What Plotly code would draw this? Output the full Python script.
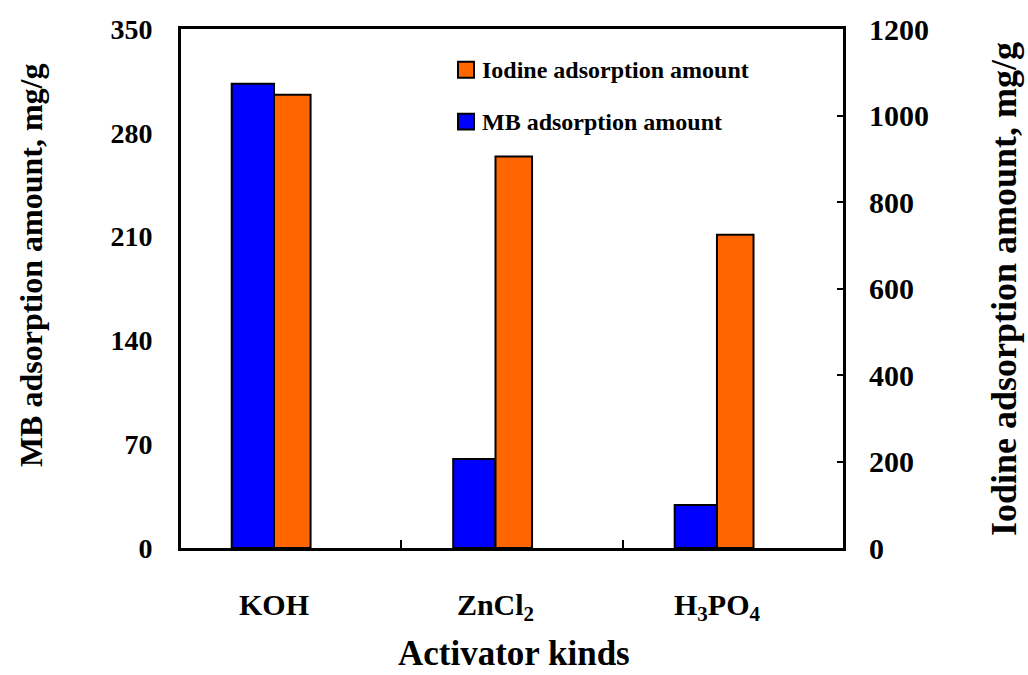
import plotly.graph_objects as go

# Activators and measured adsorption amounts
activators = ["KOH", "ZnCl<sub>2</sub>", "H<sub>3</sub>PO<sub>4</sub>"]
mb_amount = [313, 60, 29]          # mg/g, left axis
iodine_amount = [1048, 905, 724]   # mg/g, right axis

mb_ticks = [0, 70, 140, 210, 280, 350]
iodine_ticks = [0, 200, 400, 600, 800, 1000, 1200]

# category slots on the x axis and the separator marks between them
positions = list(range(len(activators)))
separator_ticks = [0.573, 1.576]

BLUE = "#0000FF"
ORANGE = "#FF6600"
FONT = "Liberation Serif, Times New Roman, serif"

fig = go.Figure()

fig.add_trace(go.Bar(
    x=positions, y=mb_amount, name="MB adsorption amount",
    marker=dict(color=BLUE, line=dict(color="black", width=2)),
    offset=-0.191, width=0.191, yaxis="y", showlegend=False,
))
fig.add_trace(go.Bar(
    x=positions, y=iodine_amount, name="Iodine adsorption amount",
    marker=dict(color=ORANGE, line=dict(color="black", width=2)),
    offset=0.0, width=0.165, yaxis="y2", showlegend=False,
))

fig.update_layout(
    width=1028, height=675,
    margin=dict(l=181, r=185, t=27, b=127),
    paper_bgcolor="white", plot_bgcolor="white",
    barmode="overlay",
    font=dict(family=FONT, color="black", weight="bold"),
    xaxis=dict(
        range=[-0.420, 2.569],
        tickmode="array", tickvals=positions, ticktext=activators,
        showline=True, linecolor="black", linewidth=3, mirror=True,
        ticks="",
        minor=dict(tickmode="array", tickvals=separator_ticks, ticks="inside",
                   ticklen=8, tickwidth=2, tickcolor="black", showgrid=False),
        tickfont=dict(size=30, family=FONT, weight="bold"),
        ticklabelstandoff=28,
        showgrid=False, zeroline=False,
    ),
    yaxis=dict(
        range=[0, 350], tickvals=mb_ticks,
        showline=True, linecolor="black", linewidth=3,
        ticks="", tickfont=dict(size=28, family=FONT, weight="bold"),
        ticklabelstandoff=20,
        showgrid=False, zeroline=False,
    ),
    yaxis2=dict(
        range=[0, 1200], tickvals=iodine_ticks, overlaying="y", side="right",
        showline=True, linecolor="black", linewidth=3,
        ticks="inside", ticklen=6, tickwidth=2, tickcolor="black",
        tickfont=dict(size=30, family=FONT, weight="bold"),
        ticklabelstandoff=17,
        showgrid=False, zeroline=False,
    ),
)

# Axis titles
fig.add_annotation(text="MB adsorption amount, mg/g", xref="paper", yref="paper",
                   x=(31 - 181) / 662, y=(548 - 264) / 521,
                   xanchor="center", yanchor="middle", textangle=-90, showarrow=False,
                   font=dict(size=32, family=FONT, weight="bold"))
fig.add_annotation(text="Iodine adsorption amount, mg/g", xref="paper", yref="paper",
                   x=(1004 - 181) / 662, y=(548 - 288) / 521,
                   xanchor="center", yanchor="middle", textangle=-90, showarrow=False,
                   font=dict(size=36, family=FONT, weight="bold"))
fig.add_annotation(text="Activator kinds", xref="paper", yref="paper",
                   x=(514 - 181) / 662, y=(548 - 654) / 521,
                   xanchor="center", yanchor="middle", showarrow=False,
                   font=dict(size=35, family=FONT, weight="bold"))

# Legend drawn as swatches with labels
legend_items = [("Iodine adsorption amount", ORANGE, 68), ("MB adsorption amount", BLUE, 120)]
for label, color, ypx in legend_items:
    yc = (548 - ypx) / 521
    fig.add_shape(type="rect", xref="paper", yref="paper",
                  x0=(458 - 181) / 662, x1=(474 - 181) / 662,
                  y0=yc - 8 / 521, y1=yc + 8 / 521,
                  fillcolor=color, line=dict(color="black", width=2))
    fig.add_annotation(text=label, xref="paper", yref="paper",
                       x=(480 - 181) / 662, y=yc, xanchor="left", yanchor="middle",
                       showarrow=False, font=dict(size=24, family=FONT, weight="bold"))

fig.write_html("out.html")
